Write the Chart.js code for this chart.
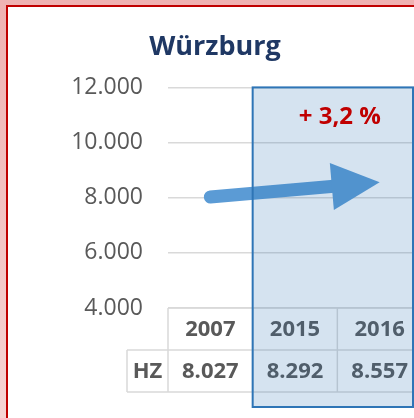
<!DOCTYPE html>
<html lang="de">
<head>
<meta charset="utf-8">
<title>Würzburg</title>
<script src="https://cdn.jsdelivr.net/npm/chart.js@4.4.1/dist/chart.umd.min.js"></script>
<style>
  html, body { margin: 0; padding: 0; }
  body {
    width: 414px;
    height: 418px;
    overflow: hidden;
    background: linear-gradient(to bottom, #efb2b2, #f6d4d4);
  }
  .frame {
    position: absolute;
    left: 6px;
    top: 5px;
    width: 420px;
    height: 430px;
    border: 2px solid #c00000;
    background: #fff;
  }
  canvas { position: absolute; left: 0; top: 0; }
</style>
</head>
<body>
<div class="frame"><canvas id="wuerzburg" width="414" height="411"></canvas></div>
<script>
const years = ["2007", "2015", "2016"];
const hzValues = [8027, 8292, 8557];
const rowLabel = "HZ";
const yRange = { min: 4000, max: 12000, step: 2000 };
const changeLabel = "+ 3,2 %";

// german thousands separator: 8027 -> "8.027"
const fmt = (v) => String(v).replace(/\B(?=(\d{3})+(?!\d))/g, ".");

Chart.defaults.font.family = "'Open Sans', sans-serif";

// data table under the plot, the arrow and the highlighted 2015/2016 box
const overlayPlugin = {
  id: "overlay",
  afterDatasetsDraw(chart) {
    const { ctx, chartArea, scales: { x, y } } = chart;
    const colW = x.getPixelForValue(1) - x.getPixelForValue(0);
    const top = y.getPixelForValue(yRange.min);
    const rowH = 42;
    const left = chartArea.left;
    const right = chartArea.right;
    const labelLeft = left - 41;

    const line = (x1, y1, x2, y2) => {
      ctx.beginPath();
      ctx.moveTo(x1, y1);
      ctx.lineTo(x2, y2);
      ctx.stroke();
    };

    ctx.save();

    // table grid
    ctx.strokeStyle = "#d9d9d9";
    ctx.lineWidth = 1.5;
    line(left, top, right, top);
    line(labelLeft, top + rowH, right, top + rowH);
    line(labelLeft, top + 2 * rowH, right, top + 2 * rowH);
    for (let i = 0; i <= years.length; i++) {
      const xb = left + i * colW;
      line(xb, top, xb, top + 2 * rowH);
    }
    line(labelLeft, top + rowH, labelLeft, top + 2 * rowH);

    // table text
    ctx.font = "bold 22px 'Open Sans'";
    ctx.fillStyle = "#595959";
    ctx.textAlign = "center";
    ctx.textBaseline = "middle";
    years.forEach((yr, i) => ctx.fillText(yr, x.getPixelForValue(i), top + rowH / 2 + 1));
    hzValues.forEach((v, i) => ctx.fillText(fmt(v), x.getPixelForValue(i), top + rowH * 1.5 + 1));
    ctx.fillText(rowLabel, (labelLeft + left) / 2, top + rowH * 1.5 + 1);

    // arrow from first to last value
    const pts = chart.getDatasetMeta(0).data;
    const p0 = pts[0];
    const p1 = pts[pts.length - 1];
    const ang = Math.atan2(p1.y - p0.y, p1.x - p0.x);
    const cos = Math.cos(ang), sin = Math.sin(ang);
    const headLen = 48, headHalf = 23.5;
    const bx = p1.x - headLen * cos;
    const by = p1.y - headLen * sin;
    ctx.strokeStyle = "#5b9bd5";
    ctx.fillStyle = "#5b9bd5";
    ctx.lineWidth = 13;
    ctx.lineCap = "round";
    line(p0.x, p0.y, bx + 2 * cos, by + 2 * sin);
    ctx.beginPath();
    ctx.moveTo(p1.x, p1.y);
    ctx.lineTo(bx + headHalf * sin, by - headHalf * cos);
    ctx.lineTo(bx - headHalf * sin, by + headHalf * cos);
    ctx.closePath();
    ctx.fill();

    // highlight box over 2015 and 2016
    const rl = (x.getPixelForValue(0) + x.getPixelForValue(1)) / 2;
    const rr = right - 9;
    const rt = y.getPixelForValue(yRange.max);
    const rb = top + 2 * rowH + 15;
    ctx.fillStyle = "rgba(46, 117, 182, 0.2)";
    ctx.fillRect(rl, rt, rr - rl, rb - rt);
    ctx.strokeStyle = "#2e75b6";
    ctx.lineWidth = 2;
    ctx.strokeRect(rl, rt, rr - rl, rb - rt);

    ctx.font = "bold 24px 'Open Sans'";
    ctx.fillStyle = "#c00000";
    ctx.fillText(changeLabel, (rl + rr) / 2 + 7, y.getPixelForValue(11000) + 2);

    ctx.restore();
  },
};

new Chart(document.getElementById("wuerzburg"), {
  type: "line",
  data: {
    labels: years,
    datasets: [
      {
        label: rowLabel,
        data: hzValues,
        showLine: false,
        pointRadius: 0,
        borderColor: "#5b9bd5",
      },
    ],
  },
  options: {
    responsive: false,
    animation: false,
    devicePixelRatio: 1,
    layout: { padding: { top: 0, left: 0, right: 0, bottom: 110 } },
    plugins: {
      legend: { display: false },
      tooltip: { enabled: false },
      title: {
        display: true,
        text: "Würzburg",
        color: "#1f3864",
        font: { size: 27, weight: "bold" },
        padding: { top: 24, bottom: 24 },
      },
    },
    scales: {
      x: { display: false, offset: true },
      y: {
        min: yRange.min,
        max: yRange.max,
        border: { display: false },
        grid: { color: "#d9d9d9", lineWidth: 1.5, drawTicks: false },
        ticks: {
          stepSize: yRange.step,
          padding: 25,
          color: "#595959",
          font: { size: 23 },
          callback: (v) => fmt(v),
        },
        afterFit: (scale) => { scale.width = 160; },
      },
    },
  },
  plugins: [overlayPlugin],
});
</script>
</body>
</html>
